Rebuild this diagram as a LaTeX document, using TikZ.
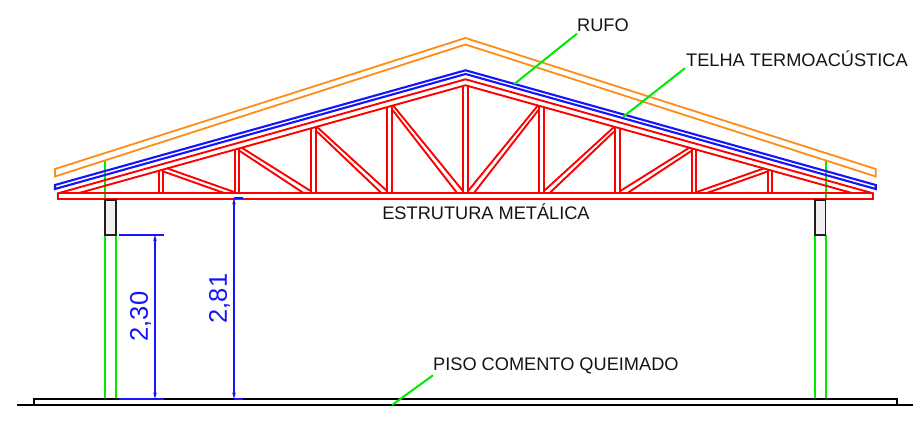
\documentclass[tikz,border=0pt]{standalone}
\usepackage{fontspec}
\setmainfont{Liberation Sans}
\usetikzlibrary{arrows.meta}
\tikzset{
  orangeline/.style={draw={rgb,255:red,255;green,140;blue,20},line width=1.8pt},
  blueline/.style={draw={rgb,255:red,20;green,20;blue,255},line width=2.1pt},
  redline/.style={draw={rgb,255:red,255;green,0;blue,0},line width=1.9pt},
  greenline/.style={draw={rgb,255:red,0;green,235;blue,0},line width=2pt},
  blackline/.style={draw={rgb,255:red,30;green,30;blue,30},line width=1.8pt},
  floorline/.style={draw=black,line width=1.7pt},
  dimline/.style={draw={rgb,255:red,20;green,20;blue,255},line width=1.9pt},
  dimarrow/.style={dimline,{Stealth[length=6pt,width=3.5pt]}-{Stealth[length=6pt,width=3.5pt]}},
  labeltext/.style={font=\fontsize{18.2}{20}\selectfont,text={rgb,255:red,20;green,20;blue,20},inner sep=0pt},
  dimtext/.style={font=\fontsize{25.5}{28}\selectfont,text={rgb,255:red,20;green,20;blue,255},inner sep=0pt,rotate=90}
}
\begin{document}
\begin{tikzpicture}[x=1pt,y=-1pt]
\useasboundingbox (0,0) rectangle (921,422);
\fill[white] (0,0) rectangle (921,422);
% green columns
\draw[greenline] (105,160) -- (105,199);
\draw[greenline] (825.5,160) -- (825.5,199);
\draw[greenline] (105,235) -- (105,398.7);
\draw[greenline] (116,235) -- (116,398.7);
\draw[greenline] (815,235) -- (815,398.7);
\draw[greenline] (825.5,235) -- (825.5,398.7);
% orange
\draw[orangeline] (55,169) -- (465.5,38) -- (875.7,169) -- (875.7,176.5) -- (465.5,44.5) -- (55,176.5) -- cycle;
% blue
\draw[blueline] (55,185) -- (465.5,70.3) -- (875.7,185) -- (875.7,189) -- (465.5,74) -- (55,189) -- cycle;
% red chords
\draw[redline] (58,193.3) -- (465.5,79.3) -- (873,193.3) -- (873,199) -- (58,199) -- cycle;
\draw[redline] (58,193.3) -- (873,193.3);
\draw[redline] (78,193.3) -- (465.5,85.3) -- (853,193.3);
% verticals
\foreach \xa/\ya/\xb/\yb in {158.7/170.8/163.3/169.5,234.7/149.7/239.3/148.4,310.7/128.5/315.7/127.1,386.7/107.3/392/105.8,463.3/86/468/86}{
  \draw[redline] (\xa,\ya) -- (\xa,193.3);
  \draw[redline] (\xb,\yb) -- (\xb,193.3);
}
\foreach \xa/\ya/\xb/\yb in {158.7/170.8/163.3/169.5,234.7/149.7/239.3/148.4,310.7/128.5/315.7/127.1,386.7/107.3/392/105.8}{
  \draw[redline] ({931-\xa},\ya) -- ({931-\xa},193.3);
  \draw[redline] ({931-\xb},\yb) -- ({931-\xb},193.3);
}
% diagonals
\foreach \xa/\ya/\xb/\yb/\xc/\yc/\xd/\yd in {
  167/168.3/235/192.3/164/171.7/225/193.3,
  241.7/147.7/310.7/191/239.3/150.7/304/193.3,
  317.3/127.3/386.7/190.7/316/130.7/381.7/193.3,
  393.3/105.7/462.7/190.7/392/109.3/457.3/193.3}{
  \draw[redline] (\xa,\ya) -- (\xb,\yb);
  \draw[redline] (\xc,\yc) -- (\xd,\yd);
  \draw[redline] ({931-\xa},\ya) -- ({931-\xb},\yb);
  \draw[redline] ({931-\xc},\yc) -- ({931-\xd},\yd);
}
% column heads
\draw[blackline,fill={rgb,255:red,240;green,240;blue,240}] (105,200) rectangle (116,235);
\draw[blackline,fill={rgb,255:red,240;green,240;blue,240}] (815,200) rectangle (825.5,235);
% floor
\coordinate (fl) at (34,405);
\coordinate (fr) at (896.7,405);
\draw[floorline] (17,405.3) -- (913,405.3);
\draw[floorline] (fl) -- (34,398.7) -- (896.7,398.7) -- (fr);
% dims
\draw[dimline] (119,235) -- (164.3,235);
\draw[dimline] (119,398.7) -- (164.3,398.7);
\coordinate (d1a) at (155,235);
\coordinate (d1b) at (155,398.7);
\draw[dimarrow] (d1a) -- (d1b);
\draw[dimline] (234,198.3) -- (243,198.3);
\draw[dimline] (234,398.7) -- (243,398.7);
\coordinate (d2a) at (234,198.3);
\coordinate (d2b) at (234,398.7);
\draw[dimarrow] (d2a) -- (d2b);
\node[dimtext] (t230) at (140.5,316.5) {2,30};
\node[dimtext] (t281) at (219.5,298.5) {2,81};
% labels
\node[labeltext,anchor=west] (rufo) at (577,25.5) {RUFO};
\node[labeltext,anchor=west] (telha) at (686,58.5) {TELHA TERMOACÚSTICA};
\node[labeltext,anchor=center] (estr) at (486,212) {ESTRUTURA METÁLICA};
\node[labeltext,anchor=west] (piso) at (433,365.5) {PISO COMENTO QUEIMADO};
\coordinate (p1) at (514.3,84);
\coordinate (p2) at (623.3,116.7);
\coordinate (p3) at (392,405);
\draw[greenline] (rufo.south west) ++(0,1.5) -- (p1);
\draw[greenline] (telha.south west) ++(-1,1.5) -- (p2);
\draw[greenline] (piso.south west) ++(0,1.5) -- (p3);
\end{tikzpicture}
\end{document}
